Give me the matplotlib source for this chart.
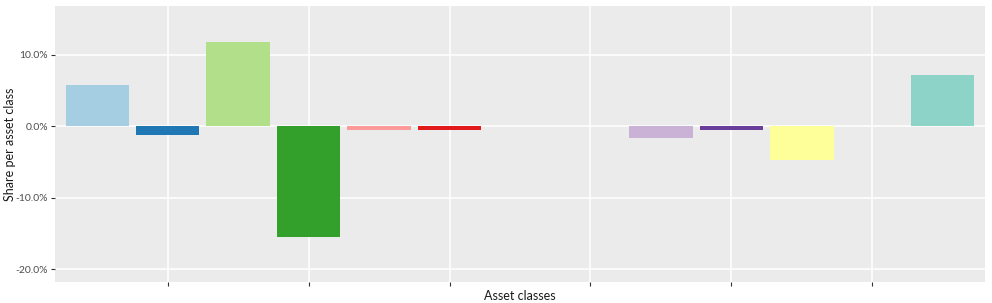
import matplotlib.pyplot as plt
import numpy as np
from matplotlib.ticker import FuncFormatter

# 13 asset classes, three of them have no position
positions = np.arange(1, 14)
shares = [5.7, -1.2, 11.8, -15.5, -0.55, -0.55, 0.0, 0.0, -1.6, -0.55, -4.8, 0.0, 7.2]
colors = ["#a6cee3", "#1f78b4", "#b2df8a", "#33a02c", "#fb9a99", "#e31a1c",
          "#fdbf6f", "#ff7f00", "#cab2d6", "#6a3d9a", "#ffff99", "#b15928", "#8dd3c7"]
x_ticks = [2, 4, 6, 8, 10, 12]
y_ticks = [-20, -10, 0, 10]

plt.rcParams["font.family"] = ["Lato", "DejaVu Sans"]

fig = plt.figure(figsize=(9.92, 3.03), dpi=100)
ax = fig.add_axes([55 / 992, 21 / 303, 930 / 992, 276 / 303])
ax.set_facecolor("#ebebeb")

ax.bar(positions, shares, width=0.9, color=colors, zorder=3)

ax.set_xlim(0.4, 13.6)
ax.set_ylim(-21.8, 16.8)
ax.set_xticks(x_ticks)
ax.set_xticklabels([""] * len(x_ticks))
ax.set_yticks(y_ticks)
ax.yaxis.set_major_formatter(FuncFormatter(lambda v, p: f"{v:.1f}%"))

ax.grid(True, color="white", linewidth=1.1, zorder=0)
ax.set_axisbelow(True)
for s in ax.spines.values():
    s.set_visible(False)
ax.tick_params(axis="both", length=3, width=0.8, color="#333333",
               labelsize=7.5, labelcolor="#4d4d4d", pad=2)

ax.set_xlabel("Asset classes", fontsize=9, color="#1a1a1a", va="center")
ax.set_ylabel("Share per asset class", fontsize=9, color="#1a1a1a", va="center")
ax.xaxis.set_label_coords(0.5, -0.05)
ax.yaxis.set_label_coords(-0.048, 0.5)

fig.savefig("out.png", dpi=100)
